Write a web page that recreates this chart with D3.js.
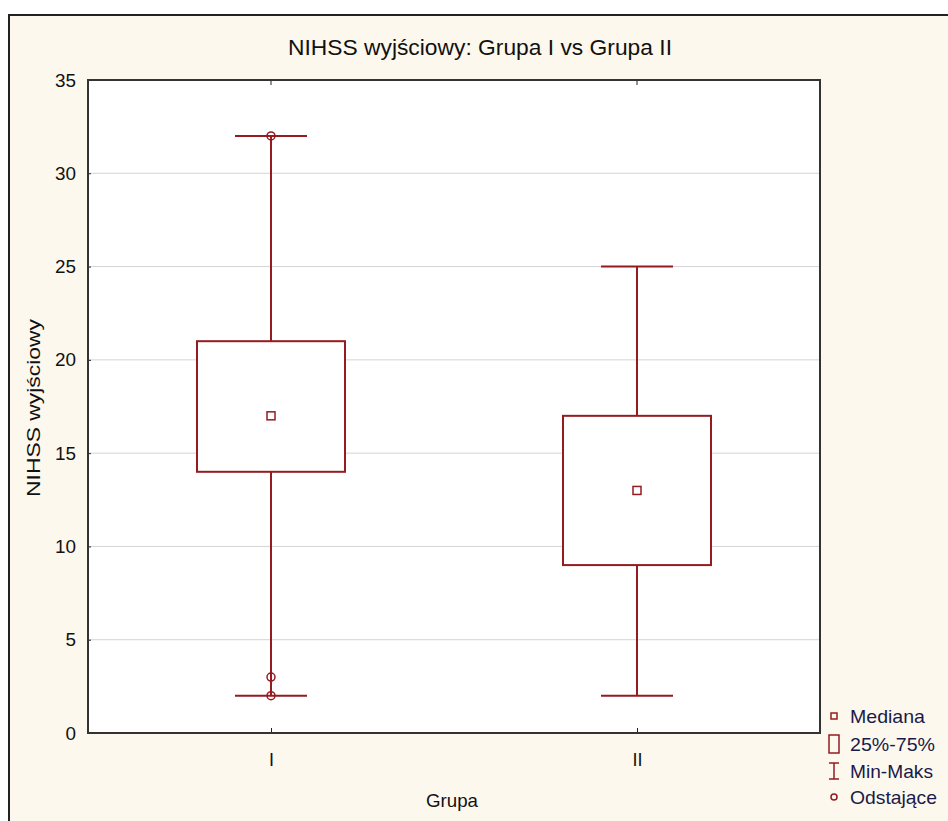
<!DOCTYPE html>
<html>
<head>
<meta charset="utf-8">
<script src="https://cdn.jsdelivr.net/npm/d3@7"></script>
<style>
  body { margin: 0; background: #fff; }
  svg { display: block; font-family: "Liberation Sans", Arial, sans-serif; }
</style>
</head>
<body>
<svg id="chart" width="948" height="821"></svg>
<script>
// data
const groups = ['I', 'II'];
const mins = [2, 2];
const maxs = [32, 25];
const q1s = [14, 9];
const q3s = [21, 17];
const medians = [17, 13];
const outliers = [[32, 3, 2], []];
const yTicks = [0, 5, 10, 15, 20, 25, 30, 35];

const col = '#941b1f';
const svg = d3.select('#chart');

// outer frame
svg.append('rect').attr('x', 9).attr('y', 15).attr('width', 960).attr('height', 830)
  .attr('fill', '#fdf8ed').attr('stroke', '#222').attr('stroke-width', 2);

const m = {left: 88, top: 80, right: 820, bottom: 733};

const x = d3.scalePoint().domain(groups).range([m.left, m.right]).padding(0.5);
const y = d3.scaleLinear().domain([0, 35]).range([m.bottom, m.top]);

svg.append('rect').attr('x', m.left).attr('y', m.top)
  .attr('width', m.right - m.left).attr('height', m.bottom - m.top).attr('fill', '#fff');

// gridlines
svg.append('g').selectAll('line').data(yTicks.filter(d => d > 0 && d < 35)).enter()
  .append('line')
  .attr('x1', m.left).attr('x2', m.right)
  .attr('y1', d => y(d)).attr('y2', d => y(d))
  .attr('stroke', '#d4d4d4').attr('stroke-width', 1);

// y axis
const yAxis = svg.append('g').attr('transform', `translate(${m.left},0)`)
  .call(d3.axisLeft(y).tickValues(yTicks).tickSize(-3).tickPadding(12));
yAxis.select('.domain').remove();
yAxis.selectAll('line').attr('stroke', '#222');
yAxis.selectAll('text').attr('font-size', 19).attr('fill', '#111')
  .attr('textLength', d => String(d).length * 10.5).attr('lengthAdjust', 'spacingAndGlyphs');

// x axis
const xAxis = svg.append('g').attr('transform', `translate(0,${m.bottom})`)
  .call(d3.axisBottom(x).tickSize(-5).tickPadding(20));
xAxis.select('.domain').remove();
xAxis.selectAll('line').attr('stroke', '#222');
xAxis.selectAll('text').attr('font-size', 18).attr('fill', '#111');

// top ticks
svg.append('g').selectAll('line').data(groups).enter().append('line')
  .attr('x1', d => x(d)).attr('x2', d => x(d))
  .attr('y1', m.top).attr('y2', m.top + 5).attr('stroke', '#222');

// plot border
svg.append('rect').attr('x', m.left).attr('y', m.top)
  .attr('width', m.right - m.left).attr('height', m.bottom - m.top)
  .attr('fill', 'none').attr('stroke', '#333').attr('stroke-width', 2);

const boxW = 148, capW = 72;
const boxes = svg.append('g').selectAll('g').data(groups).enter().append('g');

boxes.append('line')
  .attr('x1', d => x(d)).attr('x2', d => x(d))
  .attr('y1', (d, i) => y(maxs[i])).attr('y2', (d, i) => y(q3s[i]))
  .attr('stroke', col).attr('stroke-width', 2);
boxes.append('line')
  .attr('x1', d => x(d)).attr('x2', d => x(d))
  .attr('y1', (d, i) => y(q1s[i])).attr('y2', (d, i) => y(mins[i]))
  .attr('stroke', col).attr('stroke-width', 2);
boxes.append('line')
  .attr('x1', d => x(d) - capW / 2).attr('x2', d => x(d) + capW / 2)
  .attr('y1', (d, i) => y(maxs[i])).attr('y2', (d, i) => y(maxs[i]))
  .attr('stroke', col).attr('stroke-width', 2);
boxes.append('line')
  .attr('x1', d => x(d) - capW / 2).attr('x2', d => x(d) + capW / 2)
  .attr('y1', (d, i) => y(mins[i])).attr('y2', (d, i) => y(mins[i]))
  .attr('stroke', col).attr('stroke-width', 2);
boxes.append('rect')
  .attr('x', d => x(d) - boxW / 2).attr('width', boxW)
  .attr('y', (d, i) => y(q3s[i])).attr('height', (d, i) => y(q1s[i]) - y(q3s[i]))
  .attr('fill', '#fff').attr('stroke', col).attr('stroke-width', 2);
boxes.append('rect')
  .attr('x', d => x(d) - 4).attr('width', 8)
  .attr('y', (d, i) => y(medians[i]) - 4).attr('height', 8)
  .attr('fill', '#fff').attr('stroke', col).attr('stroke-width', 1.5);
boxes.each(function(d, i) {
  d3.select(this).selectAll('circle').data(outliers[i]).enter().append('circle')
    .attr('cx', x(d)).attr('cy', v => y(v)).attr('r', 4)
    .attr('fill', 'none').attr('stroke', col).attr('stroke-width', 1.5);
});

// title and axis labels (condensed to match the narrow original face)
svg.append('text').attr('x', 480).attr('y', 55).attr('text-anchor', 'middle')
  .attr('font-size', 22).attr('fill', '#111')
  .attr('textLength', 384).attr('lengthAdjust', 'spacingAndGlyphs')
  .text('NIHSS wyjściowy: Grupa I vs Grupa II');
svg.append('text').attr('transform', 'translate(40,408) rotate(-90)').attr('text-anchor', 'middle')
  .attr('font-size', 19).attr('fill', '#111')
  .attr('textLength', 178).attr('lengthAdjust', 'spacingAndGlyphs')
  .text('NIHSS wyjściowy');
svg.append('text').attr('x', 452).attr('y', 807).attr('text-anchor', 'middle')
  .attr('font-size', 19).attr('fill', '#111')
  .attr('textLength', 52).attr('lengthAdjust', 'spacingAndGlyphs')
  .text('Grupa');

// legend
const legend = svg.append('g').attr('transform', 'translate(834,0)');
const ly = [716, 744, 771, 797];
const labels = ['Mediana', '25%-75%', 'Min-Maks', 'Odstające'];
const labelW = [75, 85, 83, 87];
legend.append('rect').attr('x', -3).attr('y', ly[0] - 3).attr('width', 6).attr('height', 6)
  .attr('fill', 'none').attr('stroke', col).attr('stroke-width', 1.5);
legend.append('rect').attr('x', -5).attr('y', ly[1] - 9).attr('width', 10).attr('height', 18)
  .attr('fill', 'none').attr('stroke', col).attr('stroke-width', 1.5);
legend.append('path').attr('d', `M-5,${ly[2] - 8}H5M0,${ly[2] - 8}V${ly[2] + 8}M-5,${ly[2] + 8}H5`)
  .attr('fill', 'none').attr('stroke', col).attr('stroke-width', 1.5);
legend.append('circle').attr('cx', 0).attr('cy', ly[3]).attr('r', 3)
  .attr('fill', 'none').attr('stroke', col).attr('stroke-width', 1.5);
legend.selectAll('text.lab').data(labels).enter().append('text').attr('class', 'lab')
  .attr('x', 16).attr('y', (d, i) => ly[i] + 7)
  .attr('font-size', 19).attr('fill', '#1a1a4a')
  .attr('textLength', (d, i) => labelW[i]).attr('lengthAdjust', 'spacingAndGlyphs')
  .text(d => d);
</script>
</body>
</html>
